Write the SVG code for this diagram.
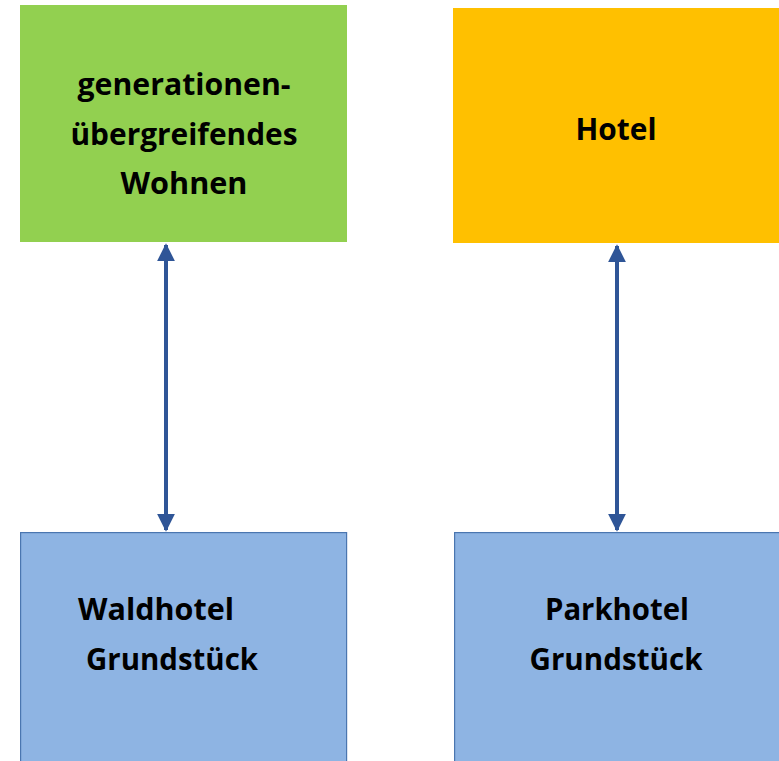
<svg xmlns="http://www.w3.org/2000/svg" width="779" height="761" viewBox="0 0 779 761">
<style>
.t{font-family:"Open Sans",Lato,"Liberation Sans",sans-serif;font-weight:bold;font-size:31px;fill:#000}
.c{stroke:#2F5597;stroke-width:4;fill:none}
.b{fill:#8EB4E3;stroke:#4A76B0;stroke-width:1.2}
</style>
<defs>
<marker id="ah" viewBox="0 0 10 10" refX="9" refY="5" markerWidth="4.5" markerHeight="4.5" orient="auto-start-reverse" markerUnits="strokeWidth">
<path d="M0,0 L10,5 L0,10 Z" fill="#2F5597"/>
</marker>
</defs>
<rect width="779" height="761" fill="#fff"/>
<g id="connectors">
<line class="c" x1="166" y1="245" x2="166" y2="530" marker-start="url(#ah)" marker-end="url(#ah)"/>
<line class="c" x1="617" y1="246" x2="617" y2="530" marker-start="url(#ah)" marker-end="url(#ah)"/>
</g>
<g id="node-wohnen">
<rect x="20" y="5" width="327" height="237" fill="#92D050"/>
<text class="t" x="184" y="95" text-anchor="middle" textLength="213" lengthAdjust="spacingAndGlyphs">generationen-</text>
<text class="t" x="184" y="145" text-anchor="middle" textLength="227" lengthAdjust="spacingAndGlyphs">übergreifendes</text>
<text class="t" x="184" y="194" text-anchor="middle" textLength="127" lengthAdjust="spacingAndGlyphs">Wohnen</text>
</g>
<g id="node-hotel">
<rect x="453" y="8" width="326" height="235" fill="#FFC000"/>
<text class="t" x="616" y="140" text-anchor="middle" textLength="81" lengthAdjust="spacingAndGlyphs">Hotel</text>
</g>
<g id="node-waldhotel">
<rect class="b" x="20.6" y="532.6" width="326" height="230"/>
<text class="t" x="78" y="620" textLength="156" lengthAdjust="spacingAndGlyphs">Waldhotel</text>
<text class="t" x="86" y="670" textLength="172" lengthAdjust="spacingAndGlyphs">Grundstück</text>
</g>
<g id="node-parkhotel">
<rect class="b" x="454.6" y="532.6" width="326" height="230"/>
<text class="t" x="617" y="620" text-anchor="middle" textLength="144" lengthAdjust="spacingAndGlyphs">Parkhotel</text>
<text class="t" x="616" y="670" text-anchor="middle" textLength="173" lengthAdjust="spacingAndGlyphs">Grundstück</text>
</g>
</svg>
